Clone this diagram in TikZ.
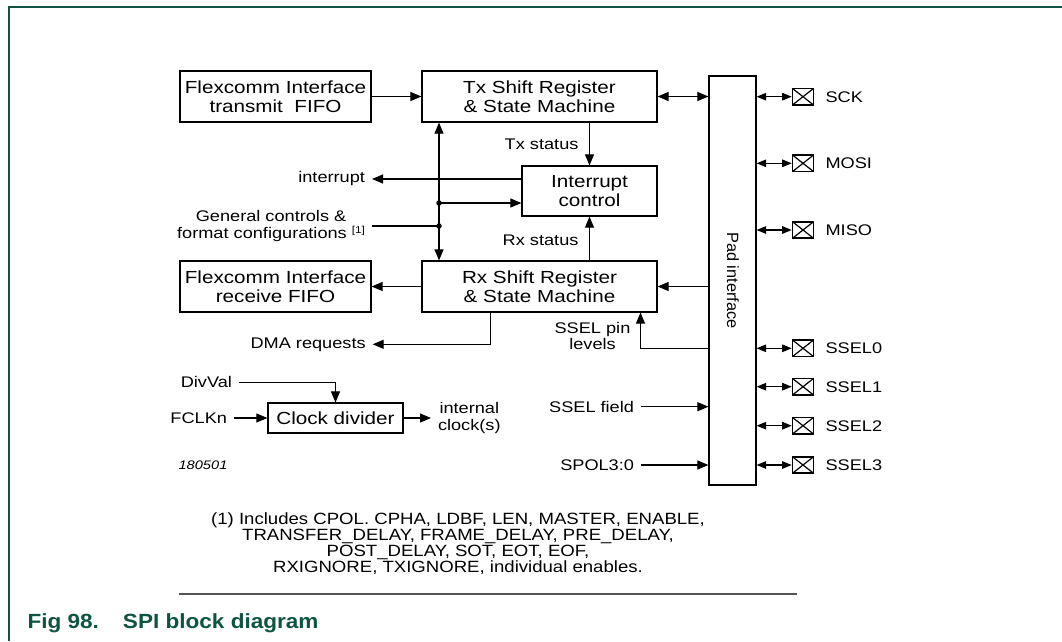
\documentclass[tikz,border=0pt]{standalone}
\usepackage{fontspec}
\setmainfont{Liberation Sans}[FakeStretch=1.18]
\newfontfamily\padfont{Liberation Sans}
\newfontfamily\fnfont{Liberation Sans}[FakeStretch=1.14]
\newfontfamily\capfont{Liberation Sans}[FakeStretch=1.1]
\usetikzlibrary{arrows.meta}
\definecolor{nxpgreen}{HTML}{0E5443}
\definecolor{sepgray}{HTML}{555555}
\newcommand{\boxfont}{\fontsize{17.5}{18.6}\selectfont}
\newcommand{\lblfont}{\fontsize{15.4}{16.6}\selectfont}
\tikzset{
  blk/.style={draw, line width=1.2pt, inner sep=0pt, align=center, font=\boxfont},
  lbl/.style={inner sep=0pt, outer xsep=7pt, outer ysep=0pt, font=\lblfont},
  lbl0/.style={inner sep=0pt, font=\lblfont},
  arr/.style={-{Triangle[length=11pt,width=9pt]}},
  darr/.style={{Triangle[length=11pt,width=9pt]}-{Triangle[length=11pt,width=9pt]}},
  pdarr/.style={{Triangle[length=9.5pt,width=7.5pt]}-{Triangle[length=9.5pt,width=7.5pt]}},
  dot/.style={circle, fill, inner sep=0pt, minimum size=5.5pt},
  padpin/.style={draw, line width=1.6pt, minimum width=21pt, minimum height=16.5pt, inner sep=0pt,
    path picture={\draw[line width=1.2pt] (path picture bounding box.north west) -- (path picture bounding box.south east)
      (path picture bounding box.south west) -- (path picture bounding box.north east);}},
}
\begin{document}
\begin{tikzpicture}[x=1pt, y=-1pt, line width=1.1pt]
\useasboundingbox (0,0) rectangle (1062,641);
% frame
\draw[nxpgreen, line width=1.2pt] (8,7) -- (1062,7);
\draw[nxpgreen, line width=1.2pt] (9,7) -- (9,641);
% blocks
\node[blk, minimum width=191pt, minimum height=51pt] (ftx) at (275.5,96.5) {Flexcomm Interface\\transmit~~FIFO};
\node[blk, minimum width=235pt, minimum height=51pt] (tx) at (539.5,96.5) {Tx Shift Register\\\& State Machine};
\node[blk, minimum width=135pt, minimum height=50pt] (intc) at (589.5,191) {Interrupt\\control};
\node[blk, minimum width=191pt, minimum height=51pt] (frx) at (275.5,286.5) {Flexcomm Interface\\receive FIFO};
\node[blk, minimum width=235pt, minimum height=51pt] (rx) at (539.5,286.5) {Rx Shift Register\\\& State Machine};
\node[blk, minimum width=47pt, minimum height=409pt] (pad) at (732.5,280.5) {};
\node[rotate=-90, inner sep=0pt, font=\padfont\fontsize{16.3}{17}\selectfont] (padtxt) at (733,280.5) {Pad interface};
\node[blk, minimum width=135pt, minimum height=30pt] (clk) at (335.5,418) {Clock divider};
% tx path
\draw[arr] (ftx.east) -- (tx.west);
\draw[darr] (tx.east) -- (tx.east -| pad.west);
\draw[arr] (intc.north |- tx.south) -- (intc.north);
\node[lbl0, anchor=east] (txs) at (579,144) {Tx status};
\draw[arr] (intc.south |- rx.north) -- (intc.south);
\node[lbl0, anchor=east] (rxs) at (579,240) {Rx status};
% interrupt out
\node[lbl, anchor=east] (irq) at (372,179) {interrupt};
\draw[arr] (intc.west |- irq.east) -- (irq.east);
% control bus
\draw[darr] ([xshift=-100.5pt]tx.south) -- ([xshift=-100.5pt]rx.north);
\node[dot] (d1) at (439,203) {};
\node[dot] (d2) at (439,226) {};
\draw[arr] (d1.center) -- (d1 -| intc.west);
\node[lbl, anchor=east, align=center] (gc) at (372,226) {General controls \&\\format configurations \raisebox{5pt}{\fontsize{10}{10}\selectfont[1]}};
\draw (gc.east) -- (d2.center);
% rx path
\draw[arr] (rx.west) -- (frx.east);
\draw[arr] (pad.west |- rx.east) -- (rx.east);
\node[lbl, anchor=east] (dma) at (372.7,344.3) {DMA requests};
\draw[arr] ([xshift=-48.8pt]rx.south) |- (dma.east);
% pins
\foreach \n/\y/\t in {sck/96.7/SCK, mosi/163.3/MOSI, miso/230/MISO, s0/348.3/SSEL0, s1/386.7/SSEL1, s2/425.7/SSEL2, s3/465/SSEL3}{
  \node[padpin] (\n) at (803,\y) {};
  \node[lbl0, anchor=west] (\n l) at (825,\y) {\t};
  \draw[pdarr] (pad.east |- \n) -- (\n.west);
}
% SSEL pin levels
\draw[arr] (pad.west |- s0) -| ([xshift=101pt]rx.south);
\node[lbl0, align=center] (spl) at (592.5,336) {SSEL pin\\levels};
% SSEL field, SPOL
\node[lbl, anchor=east] (sf) at (641,406.7) {SSEL field};
\draw[arr] (sf.east) -- (sf.east -| pad.west);
\node[lbl, anchor=east] (sp) at (641,465) {SPOL3:0};
\draw[arr] (sp.east) -- (sp.east -| pad.west);
% clock
\node[lbl, anchor=east] (dv) at (239,382.3) {DivVal};
\draw[arr] (dv.east) -| (clk.north);
\node[lbl, anchor=east] (fc) at (234,418) {FCLKn};
\draw[arr] (fc.east) -- (clk.west);
\node[lbl, anchor=west, align=center] (ic) at (431,418) {internal\\clock(s)};
\draw[arr] (clk.east) -- (ic.west);
% misc text
\node[inner sep=0pt, font=\itshape\fontsize{12.4}{14}\selectfont] (num) at (203,465) {180501};
\node[inner sep=0pt, align=center, font=\fnfont\fontsize{16.3}{16}\selectfont] (fn) at (458,544) {(1) Includes CPOL. CPHA, LDBF, LEN, MASTER, ENABLE,\\TRANSFER\_DELAY, FRAME\_DELAY, PRE\_DELAY,\\POST\_DELAY, SOT, EOT, EOF,\\RXIGNORE, TXIGNORE, individual enables.};
\draw[sepgray, line width=1.2pt] (179,594) -- (797,594);
\node[anchor=base west, inner sep=0pt, text=nxpgreen, font=\capfont\bfseries\fontsize{20.5}{22}\selectfont] (cap) at (27,628) {Fig 98.\hspace{24pt}SPI block diagram};
\end{tikzpicture}
\end{document}
